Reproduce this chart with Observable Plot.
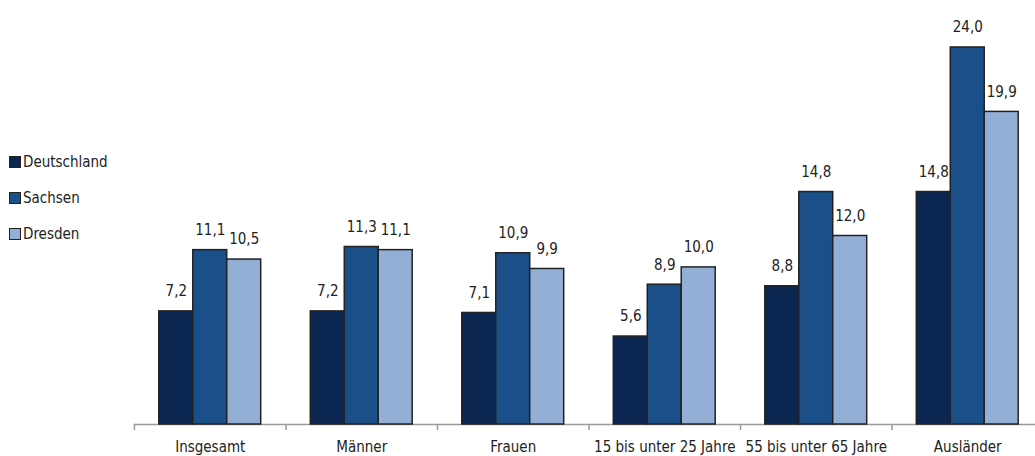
<!DOCTYPE html>
<html>
<head>
<meta charset="utf-8">
<script src="https://cdn.jsdelivr.net/npm/d3@7"></script>
<script src="https://cdn.jsdelivr.net/npm/@observablehq/plot@0.6"></script>
<style>
  html, body { margin: 0; padding: 0; background: #fff; overflow: hidden; }
  #wrap { position: relative; width: 1035px; height: 456px; }
  #legend { position: absolute; left: 9px; top: 151px; font-family: "Liberation Sans Narrow", "DejaVu Sans Condensed", "Arial Narrow", sans-serif; font-size: 15px; color: #222; }
  #legend .row { display: flex; align-items: center; height: 22px; margin-bottom: 14px; }
  #legend .sw { width: 10px; height: 10px; border: 1px solid #222; margin-right: 2px; }
</style>
</head>
<body>
<div id="wrap"><div id="legend"></div></div>
<script>
const groups = ["Insgesamt", "Männer", "Frauen", "15 bis unter 25 Jahre", "55 bis unter 65 Jahre", "Ausländer"];
const series = ["Deutschland", "Sachsen", "Dresden"];
const deutschland = [7.2, 7.2, 7.1, 5.6, 8.8, 14.8];
const sachsen = [11.1, 11.3, 10.9, 8.9, 14.8, 24.0];
const dresden = [10.5, 11.1, 9.9, 10.0, 12.0, 19.9];
const colors = ["#0b2650", "#1a4f8a", "#93afd6"];

const seriesValues = [deutschland, sachsen, dresden];
const data = groups.flatMap((g, i) => series.map((s, j) => ({group: g, series: s, value: seriesValues[j][i]})));
const fmt = v => v.toFixed(1).replace(".", ",");

const W = 1035, H = 456, mL = 134, mR = -8;
const bw = (W - mL - mR) / groups.length;
const font = "'Liberation Sans Narrow', 'DejaVu Sans Condensed', 'Arial Narrow', sans-serif";

const chart = Plot.plot({
  width: W, height: H,
  marginLeft: mL, marginRight: mR, marginTop: 47, marginBottom: 32,
  fx: {domain: groups, padding: 0, round: false, label: null},
  x: {domain: series, paddingInner: 0, paddingOuter: 0.73, round: false, axis: null},
  y: {domain: [0, 24], axis: null},
  color: {domain: series, range: colors},
  style: {fontFamily: font, fontSize: "15px", color: "#222", background: "transparent", overflow: "visible"},
  marks: [
    Plot.ruleY([0], {stroke: "#9a9a9a", strokeWidth: 1.5}),
    Plot.barY(data, {fx: "group", x: "series", y: "value", fill: "series", stroke: "#222", strokeWidth: 1.5}),
    Plot.text(data, {fx: "group", x: "series", y: "value", text: d => fmt(d.value), dy: -20, lineAnchor: "middle", fontSize: 15, fill: "#222"}),
    Plot.axisFx({anchor: "bottom", tickSize: 0, tickPadding: 17, fontSize: 15, label: null}),
    Plot.axisFx({anchor: "bottom", tickSize: 6, text: null, dx: -bw / 2, stroke: "#9a9a9a", strokeWidth: 1.5, label: null})
  ]
});
document.getElementById("wrap").prepend(chart);

const legend = document.getElementById("legend");
series.forEach((s, i) => {
  const row = document.createElement("div");
  row.className = "row";
  const sw = document.createElement("div");
  sw.className = "sw";
  sw.style.background = colors[i];
  const t = document.createElement("span");
  t.textContent = s;
  row.append(sw, t);
  legend.append(row);
});
</script>
</body>
</html>
